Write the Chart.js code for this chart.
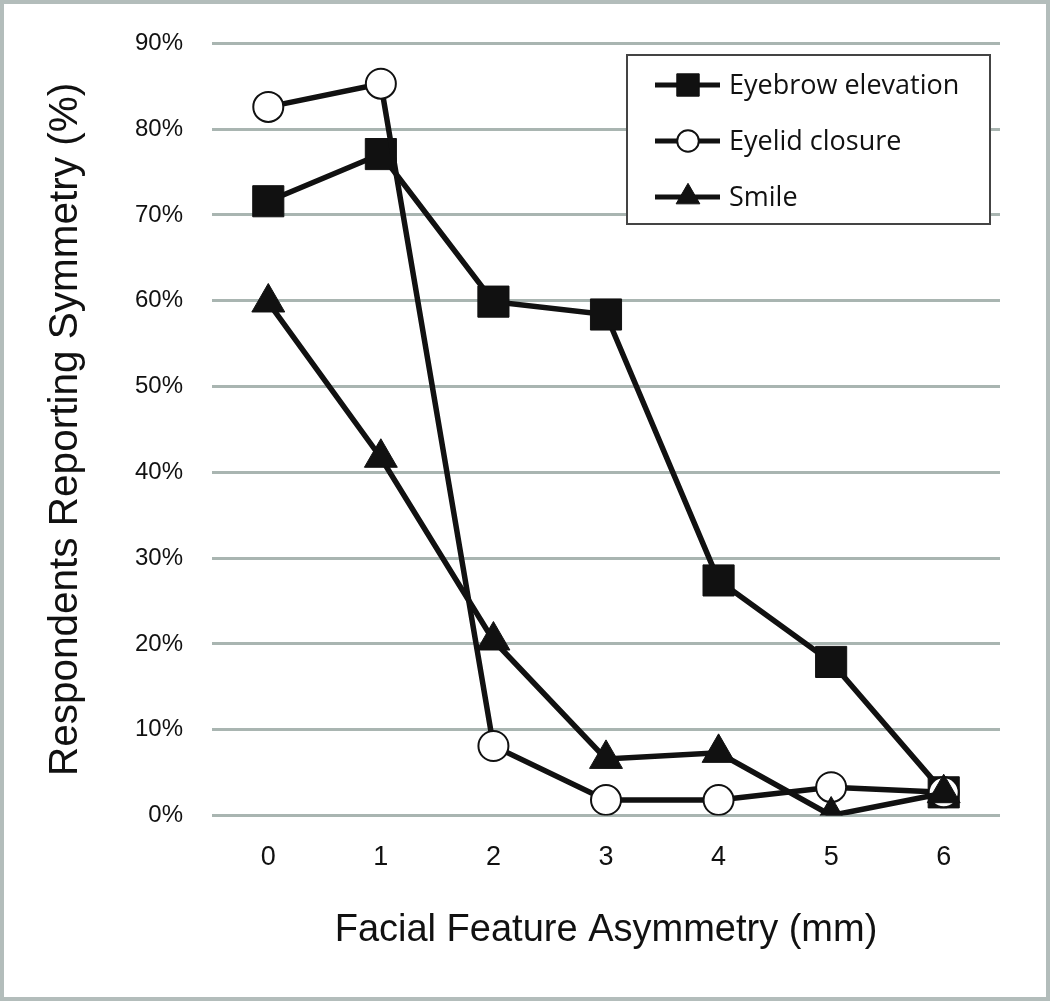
<!DOCTYPE html>
<html>
<head>
<meta charset="utf-8">
<script src="https://cdn.jsdelivr.net/npm/chart.js@4.4.0/dist/chart.umd.min.js"></script>
<style>
  html, body { margin: 0; padding: 0; background: #fff; }
  #wrap { width: 1050px; height: 1001px; position: relative; }
</style>
</head>
<body>
<div id="wrap"><canvas id="chart" width="1050" height="1001"></canvas></div>
<script>
const asymmetry = ['0', '1', '2', '3', '4', '5', '6'];
const eyebrow = [71.6, 77.1, 59.9, 58.4, 27.4, 17.9, 2.7];
const eyelid = [82.6, 85.3, 8.1, 1.8, 1.8, 3.3, 2.7];
const smile = [59.8, 41.7, 20.4, 6.6, 7.3, 0, 2.6];
const seriesNames = ['Eyebrow elevation', 'Eyelid closure', 'Smile'];

const ink = '#111';
const gridGray = '#a9b5b1';

// outer frame + in-plot legend drawn by hand
const framePlugin = {
  id: 'frame',
  afterDraw(chart) {
    const ctx = chart.ctx;
    ctx.save();
    ctx.strokeStyle = '#b3bdbb';
    ctx.lineWidth = 4;
    ctx.strokeRect(2, 2, chart.width - 4, chart.height - 4);

    // legend box
    const bx = 627, by = 55, bw = 363, bh = 169;
    ctx.fillStyle = '#fff';
    ctx.fillRect(bx, by, bw, bh);
    ctx.strokeStyle = '#444';
    ctx.lineWidth = 2;
    ctx.strokeRect(bx, by, bw, bh);

    const rows = [85, 141, 197];
    chart.data.datasets.forEach((ds, i) => {
      const y = rows[i];
      ctx.strokeStyle = ink;
      ctx.lineWidth = 5;
      ctx.beginPath();
      ctx.moveTo(655, y);
      ctx.lineTo(720, y);
      ctx.stroke();
      ctx.fillStyle = ds.pointBackgroundColor;
      ctx.strokeStyle = ink;
      ctx.lineWidth = ds.pointBorderWidth;
      Chart.helpers.drawPoint(ctx, {
        pointStyle: ds.pointStyle,
        radius: ds.pointRadius * 0.72,
        borderWidth: ds.pointBorderWidth
      }, 688, y);
      ctx.fillStyle = ink;
      ctx.font = '27px "Open Sans", Lato, sans-serif';
      ctx.textBaseline = 'middle';
      ctx.textAlign = 'left';
      ctx.fillText(ds.label, 729, y + 1);
    });
    ctx.restore();
  }
};

new Chart(document.getElementById('chart'), {
  type: 'line',
  data: {
    labels: asymmetry,
    datasets: [
      {
        label: seriesNames[0], data: eyebrow, order: 3,
        borderColor: ink, borderWidth: 5.5,
        pointStyle: 'rect', pointRadius: 22,
        pointBackgroundColor: ink, pointBorderColor: ink, pointBorderWidth: 1
      },
      {
        label: seriesNames[1], data: eyelid, order: 2,
        borderColor: ink, borderWidth: 5.5,
        pointStyle: 'circle', pointRadius: 15,
        pointBackgroundColor: '#fff', pointBorderColor: ink, pointBorderWidth: 2
      },
      {
        label: seriesNames[2], data: smile, order: 1,
        borderColor: ink, borderWidth: 5.5,
        pointStyle: 'triangle', pointRadius: 19,
        pointBackgroundColor: ink, pointBorderColor: ink, pointBorderWidth: 1
      }
    ]
  },
  options: {
    responsive: false,
    animation: false,
    layout: { padding: { left: 0, right: 50, top: 41, bottom: 0 } },
    plugins: {
      legend: { display: false },
      tooltip: { enabled: false }
    },
    scales: {
      x: {
        offset: true,
        grid: { display: false },
        border: { display: false },
        ticks: {
          color: ink,
          font: { family: '"Liberation Sans", Arial, sans-serif', size: 27 },
          padding: 18
        },
        title: {
          display: true,
          text: 'Facial Feature Asymmetry (mm)',
          color: ink,
          font: { family: '"Liberation Sans Narrow", "Liberation Sans", sans-serif', size: 38 },
          padding: { top: 0, bottom: 48 }
        },
        afterFit(scale) { scale.height = 1001 - 815.5; }
      },
      y: {
        min: 0, max: 90,
        grid: { color: gridGray, lineWidth: 3, drawTicks: false },
        border: { display: false },
        ticks: {
          stepSize: 10,
          color: ink,
          font: { family: '"Liberation Sans", Arial, sans-serif', size: 24 },
          padding: 29,
          callback: v => v + '%'
        },
        title: {
          display: true,
          text: 'Respondents Reporting Symmetry (%)',
          color: ink,
          font: { family: '"Liberation Sans Narrow", "Liberation Sans", sans-serif', size: 40.5 },
          padding: { top: 42, bottom: 0 }
        },
        afterFit(scale) { scale.width = 212; }
      }
    }
  },
  plugins: [framePlugin]
});
</script>
</body>
</html>
